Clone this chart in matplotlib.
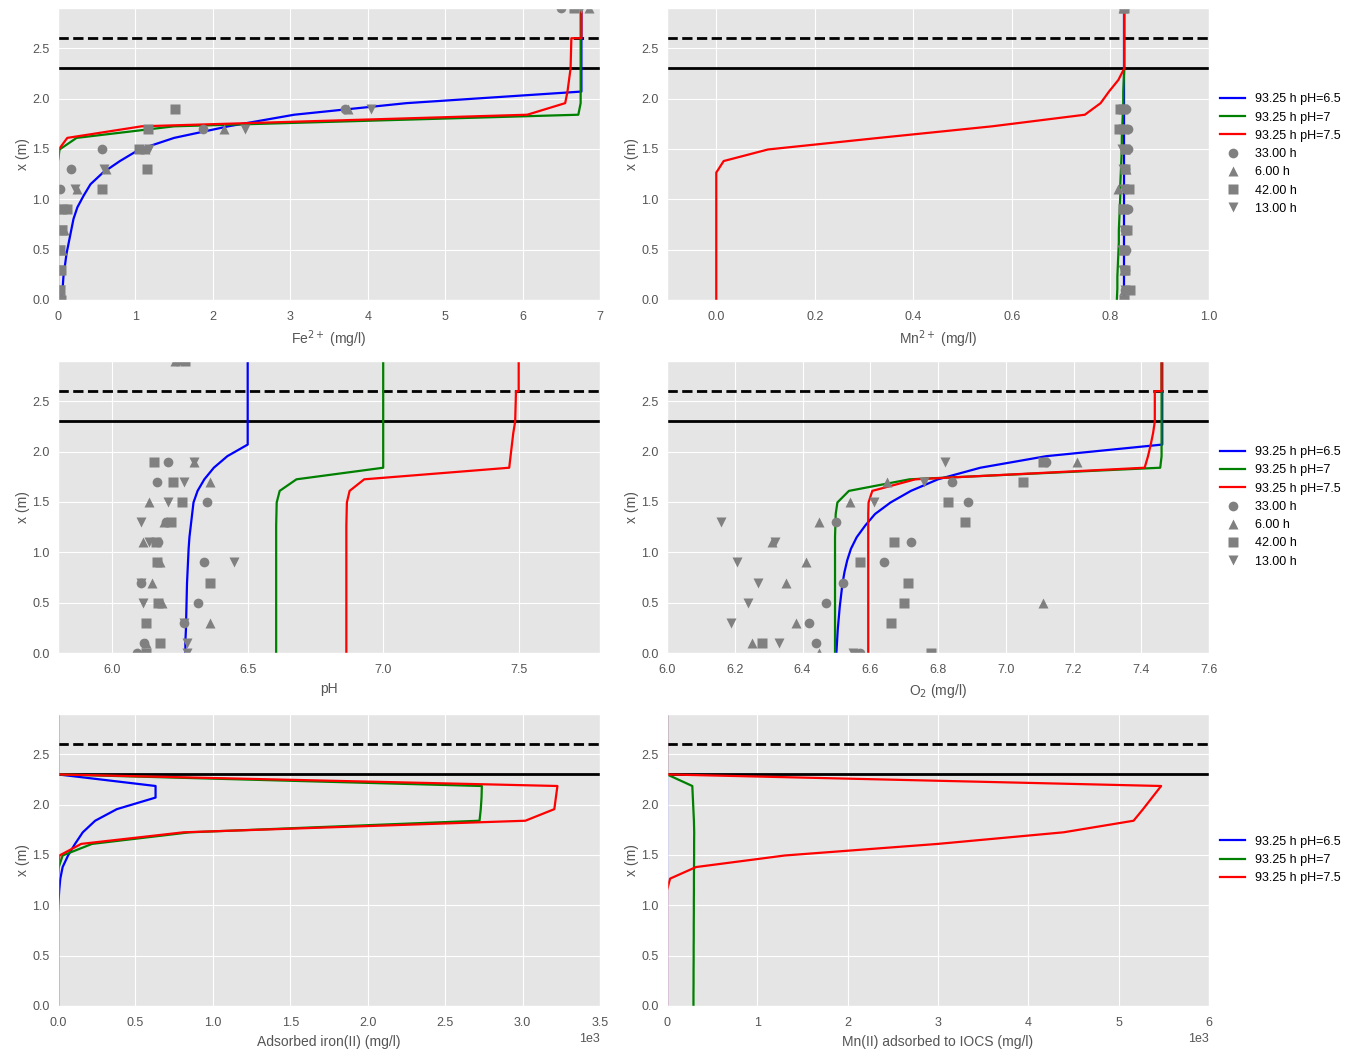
"""Filter column profiles: model (93.25 h) vs measured (6/13/33/42 h)."""

import matplotlib

matplotlib.use("Agg")
import matplotlib.pyplot as plt
import numpy as np

plt.style.use("ggplot")
plt.rcParams["font.family"] = ["Liberation Sans", "DejaVu Sans"]

# model grid (m)
z_model = [0.0, 0.115, 0.23, 0.345, 0.46, 0.575, 0.69, 0.805, 0.92, 1.035, 1.15, 1.265,
           1.38, 1.495, 1.61, 1.725, 1.84, 1.955, 2.07, 2.185, 2.3, 2.6, 2.6, 2.9]
# measurement depths (m)
z_meas = [0.0, 0.1, 0.3, 0.5, 0.7, 0.9, 1.1, 1.3, 1.5, 1.7, 1.9, 2.9]

model_labels = ["93.25 h pH=6.5", "93.25 h pH=7", "93.25 h pH=7.5"]
model_colors = ["b", "g", "r"]
meas_labels = ["33.00 h", "6.00 h", "42.00 h", "13.00 h"]
meas_markers = ["o", "^", "s", "v"]

# Fe2+ (mg/l)
fe_65 = [0.04, 0.06, 0.07, 0.09, 0.11, 0.14, 0.17, 0.2, 0.25, 0.33, 0.42, 0.58,
         0.8, 1.05, 1.5, 2.2, 3.05, 4.5, 6.76, 6.76, 6.76, 6.76, 6.76, 6.76]
fe_70 = [0.0, 0.0, 0.0, 0.0, 0.0, 0.0, 0.0, 0.0, 0.0, 0.0, 0.0, 0.0,
         0.0, 0.02, 0.24, 1.5, 6.72, 6.75, 6.75, 6.75, 6.75, 6.75, 6.75, 6.75]
fe_75 = [0.0, 0.0, 0.0, 0.0, 0.0, 0.0, 0.0, 0.0, 0.0, 0.0, 0.0, 0.0,
         0.0, 0.01, 0.12, 1.08, 6.06, 6.55, 6.58, 6.6, 6.62, 6.63, 6.76, 6.76]
fe_33h = [0.0, 0.0, 0.0, 0.0, 0.0, 0.03, 0.02, 0.17, 0.57, 1.87, 3.71, 6.5]
fe_6h = [0.02, 0.02, 0.02, 0.05, 0.08, 0.05, 0.25, 0.62, 1.12, 2.15, 3.74, 6.86]
fe_42h = [0.04, 0.03, 0.04, 0.03, 0.05, 0.11, 0.57, 1.15, 1.05, 1.16, 1.51, 6.67]
fe_13h = [0.02, 0.02, 0.02, 0.03, 0.05, 0.06, 0.22, 0.59, 1.17, 2.42, 4.04, 6.75]

# Mn2+ (mg/l)
mn_65 = [0.828] * 24
mn_70 = [0.813, 0.814, 0.814, 0.815, 0.816, 0.817, 0.817, 0.818, 0.819, 0.82, 0.82, 0.821,
         0.822, 0.823, 0.823, 0.824, 0.825, 0.826, 0.826, 0.827, 0.828, 0.828, 0.828, 0.828]
mn_75 = [0.0, 0.0, 0.0, 0.0, 0.0, 0.0, 0.0, 0.0, 0.0, 0.0, 0.0, 0.0,
         0.015, 0.105, 0.33, 0.56, 0.748, 0.78, 0.797, 0.816, 0.828, 0.828, 0.828, 0.828]
mn_33h = [0.828, 0.83, 0.83, 0.832, 0.83, 0.836, 0.832, 0.83, 0.836, 0.836, 0.832, 0.828]
mn_6h = [0.826, 0.828, 0.828, 0.826, 0.83, 0.828, 0.815, 0.832, 0.83, 0.828, 0.826, 0.826]
mn_42h = [0.828, 0.84, 0.83, 0.828, 0.833, 0.825, 0.838, 0.83, 0.83, 0.818, 0.82, 0.827]
mn_13h = [0.828, 0.83, 0.826, 0.824, 0.828, 0.826, 0.828, 0.825, 0.824, 0.826, 0.826, 0.828]

# pH
ph_65 = [6.27, 6.27, 6.272, 6.273, 6.274, 6.275, 6.276, 6.278, 6.28, 6.282, 6.285, 6.29,
         6.295, 6.30, 6.315, 6.34, 6.375, 6.425, 6.5, 6.5, 6.5, 6.5, 6.5, 6.5]
ph_70 = [6.605, 6.605, 6.605, 6.605, 6.605, 6.605, 6.605, 6.605, 6.605, 6.605, 6.605, 6.605,
         6.606, 6.607, 6.618, 6.68, 7.0, 7.0, 7.0, 7.0, 7.0, 7.0, 7.0, 7.0]
ph_75 = [6.864, 6.864, 6.864, 6.864, 6.864, 6.864, 6.864, 6.864, 6.864, 6.864, 6.864, 6.864,
         6.865, 6.866, 6.876, 6.93, 7.465, 7.47, 7.475, 7.48, 7.487, 7.49, 7.5, 7.5]
ph_33h = [6.09, 6.118, 6.265, 6.316, 6.106, 6.338, 6.17, 6.2, 6.35, 6.165, 6.206, 6.24]
ph_6h = [6.095, 6.125, 6.36, 6.184, 6.147, 6.176, 6.115, 6.19, 6.135, 6.36, 6.30, 6.23]
ph_42h = [6.125, 6.176, 6.125, 6.17, 6.36, 6.165, 6.16, 6.216, 6.257, 6.225, 6.155, 6.27]
ph_13h = [6.276, 6.276, 6.265, 6.115, 6.105, 6.45, 6.135, 6.106, 6.206, 6.265, 6.30, 6.26]

# O2 (mg/l)
o2_65 = [6.5, 6.502, 6.504, 6.507, 6.51, 6.514, 6.518, 6.524, 6.532, 6.543, 6.56, 6.585,
         6.614, 6.66, 6.72, 6.80, 6.925, 7.12, 7.462, 7.462, 7.462, 7.462, 7.462, 7.462]
o2_70 = [6.496, 6.496, 6.496, 6.496, 6.496, 6.496, 6.496, 6.496, 6.496, 6.496, 6.496, 6.497,
         6.498, 6.503, 6.537, 6.716, 7.456, 7.46, 7.46, 7.46, 7.46, 7.46, 7.46, 7.46]
o2_75 = [6.594, 6.594, 6.594, 6.594, 6.594, 6.594, 6.594, 6.594, 6.594, 6.594, 6.594, 6.594,
         6.594, 6.595, 6.606, 6.733, 7.41, 7.42, 7.428, 7.435, 7.44, 7.44, 7.46, 7.46]
o2_33h = [6.57, 6.44, 6.42, 6.47, 6.52, 6.64, 6.72, 6.50, 6.89, 6.84, 7.12, np.nan]
o2_6h = [6.45, 6.25, 6.38, 7.11, 6.35, 6.41, 6.31, 6.45, 6.54, 6.65, 7.21, np.nan]
o2_42h = [6.78, 6.28, 6.66, 6.70, 6.71, 6.57, 6.67, 6.88, 6.83, 7.05, 7.11, np.nan]
o2_13h = [6.55, 6.33, 6.19, 6.24, 6.27, 6.207, 6.32, 6.158, 6.61, 6.76, 6.82, np.nan]

# adsorbed iron(II) (mg/l)
feads_65 = [0, 0, 0, 0, 0, 0, 0, 0, 0, 3, 8, 15,
            30, 65, 110, 160, 240, 380, 630, 630, 0, 0, 0, 0]
feads_70 = [0, 0, 0, 0, 0, 0, 0, 0, 0, 0, 0, 0,
            5, 30, 220, 850, 2722, 2730, 2735, 2737, 0, 0, 0, 0]
feads_75 = [0, 0, 0, 0, 0, 0, 0, 0, 0, 0, 0, 0,
            0, 10, 150, 810, 3018, 3205, 3215, 3225, 0, 0, 0, 0]

# Mn(II) adsorbed to IOCS (mg/l)
mnads_65 = [0] * 24
mnads_70 = [293, 293, 294, 294, 295, 295, 296, 296, 297, 297, 298, 298,
            299, 300, 300, 301, 298, 292, 286, 280, 0, 0, 0, 0]
mnads_75 = [0, 0, 0, 0, 0, 0, 0, 0, 0, 0, 0, 34,
            322, 1306, 3000, 4390, 5165, 5270, 5370, 5470, 0, 0, 0, 0]

ph_ticks = [6.0, 6.5, 7.0, 7.5]

panels = [
    ([fe_65, fe_70, fe_75], [fe_33h, fe_6h, fe_42h, fe_13h], (0, 7), "Fe$^{2+}$ (mg/l)"),
    ([mn_65, mn_70, mn_75], [mn_33h, mn_6h, mn_42h, mn_13h], (-0.1, 1.0), "Mn$^{2+}$ (mg/l)"),
    ([ph_65, ph_70, ph_75], [ph_33h, ph_6h, ph_42h, ph_13h], (5.8, 7.8), "pH"),
    ([o2_65, o2_70, o2_75], [o2_33h, o2_6h, o2_42h, o2_13h], (6.0, 7.6), "O$_2$ (mg/l)"),
    ([feads_65, feads_70, feads_75], None, (0, 3500), "Adsorbed iron(II) (mg/l)"),
    ([mnads_65, mnads_70, mnads_75], None, (0, 6000), "Mn(II) adsorbed to IOCS (mg/l)"),
]

fig = plt.figure(figsize=(13.54, 10.5), dpi=100)
lefts = [58 / 1354, 667 / 1354]
bottoms = [1 - 300 / 1050, 1 - 653 / 1050, 1 - 1006 / 1050]
w, h = 542 / 1354, 292 / 1050

for i, (models, meas, xlim, xlabel) in enumerate(panels):
    row, col = divmod(i, 2)
    ax = fig.add_axes([lefts[col], bottoms[row], w, h])
    ax.axhline(2.3, color="k", lw=2)
    ax.axhline(2.6, color="k", lw=2, ls="--")
    for vals, c, lab in zip(models, model_colors, model_labels):
        ax.plot(vals, z_model, color=c, lw=1.6, label=lab)
    if meas is not None:
        for vals, m, lab in zip(meas, meas_markers, meas_labels):
            ax.plot(vals, z_meas, ls="none", marker=m, ms=7, color="gray",
                    markeredgecolor="none", label=lab)
    ax.set_xlim(*xlim)
    ax.set_ylim(0, 2.9)
    ax.set_yticks([0.0, 0.5, 1.0, 1.5, 2.0, 2.5])
    if xlabel == "pH":
        ax.set_xticks(ph_ticks)
    ax.set_ylabel("x (m)", fontsize=10, color="#555555", labelpad=2)
    ax.set_xlabel(xlabel, fontsize=10, color="#555555")
    ax.tick_params(labelsize=9, colors="#555555", length=0)
    ax.tick_params(axis="x", pad=8)
    ax.tick_params(axis="y", pad=6)
    if xlim[1] >= 1000:
        ax.ticklabel_format(axis="x", style="sci", scilimits=(3, 3))
        ax.xaxis.get_offset_text().set_fontsize(9)
    if col == 1:
        ax.legend(loc="center left", bbox_to_anchor=(1.0, 0.5), frameon=False,
                  fontsize=9, numpoints=1)

fig.savefig("out.png", dpi=100)
